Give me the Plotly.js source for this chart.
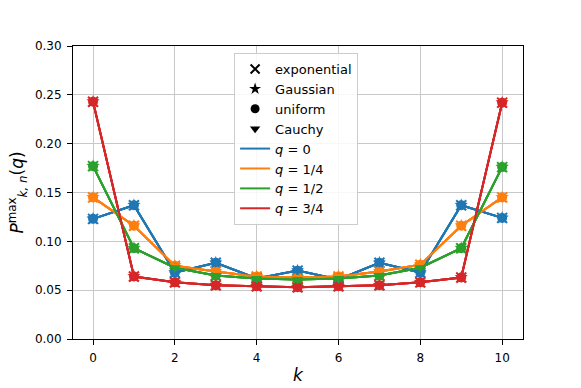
<!DOCTYPE html>
<html>
<head>
<meta charset="utf-8">
<script src="https://cdn.plot.ly/plotly-3.0.1.min.js"></script>
<style>
  html, body { margin: 0; padding: 0; background: #fff; }
  #chart { width: 581px; height: 388px; }
</style>
</head>
<body>
<div id="chart"></div>
<script>
// k values on the x axis
const kValues = [0, 1, 2, 3, 4, 5, 6, 7, 8, 9, 10];

// P^max_{k,n}(q) for each q (all four distributions lie on top of each other)
const q0 = [0.123, 0.137, 0.068, 0.078, 0.062, 0.070, 0.061, 0.078, 0.068, 0.137, 0.124];
const q14 = [0.145, 0.116, 0.075, 0.069, 0.064, 0.063, 0.064, 0.069, 0.076, 0.116, 0.145];
const q12 = [0.177, 0.093, 0.073, 0.065, 0.062, 0.061, 0.062, 0.065, 0.073, 0.093, 0.176];
const q34 = [0.243, 0.064, 0.058, 0.055, 0.054, 0.053, 0.054, 0.055, 0.058, 0.063, 0.242];

const qLabels = ["<i>q</i> = 0", "<i>q</i> = 1/4", "<i>q</i> = 1/2", "<i>q</i> = 3/4"];
const distNames = ["exponential", "Gaussian", "uniform", "Cauchy"];

const qSeries = [q0, q14, q12, q34];
const qColors = ["#1f77b4", "#ff7f0e", "#2ca02c", "#d62728"];
const distSymbols = ["x-thin-open", "star", "circle", "triangle-down"];

const traces = [];

// actual data: one trace per (distribution, q)
distSymbols.forEach((sym, d) => {
  qSeries.forEach((vals, i) => {
    traces.push({
      x: kValues,
      y: vals,
      type: "scatter",
      mode: "lines+markers",
      showlegend: false,
      line: { color: qColors[i], width: 2 },
      marker: {
        symbol: sym,
        size: 10,
        color: qColors[i],
        line: { color: qColors[i], width: sym === "x-thin-open" ? 2 : 0 },
      },
      hoverinfo: "x+y",
    });
  });
});

// legend entries: black marker per distribution, then coloured line per q
distNames.forEach((name, d) => {
  traces.push({
    x: [null], y: [null], type: "scatter", mode: "markers", name,
    marker: {
      symbol: distSymbols[d], size: 9, color: "black",
      line: { color: "black", width: distSymbols[d] === "x-thin-open" ? 2 : 0 },
    },
  });
});
qLabels.forEach((name, i) => {
  traces.push({
    x: [null], y: [null], type: "scatter", mode: "lines", name,
    line: { color: qColors[i], width: 2 },
  });
});

const axisCommon = {
  showline: true,
  mirror: true,
  linecolor: "black",
  linewidth: 1,
  ticks: "outside",
  ticklen: 5,
  tickcolor: "black",
  ticklabelstandoff: 3,
  showgrid: true,
  gridcolor: "#c8c8c8",
  gridwidth: 1,
  zeroline: false,
  tickfont: { family: "DejaVu Sans", size: 12, color: "black" },
};

const layout = {
  width: 581,
  height: 388,
  margin: { l: 73, r: 58, t: 46, b: 49 },
  paper_bgcolor: "white",
  plot_bgcolor: "white",
  font: { family: "DejaVu Sans", color: "black" },
  xaxis: {
    ...axisCommon,
    range: [-0.49, 10.51],
    tickvals: [0, 2, 4, 6, 8, 10],
    title: { text: "<i>k</i>", font: { size: 17 }, standoff: 4 },
  },
  yaxis: {
    ...axisCommon,
    range: [0, 0.3],
    tickvals: [0, 0.05, 0.1, 0.15, 0.2, 0.25, 0.3],
    tickformat: ".2f",
    title: {
      text: "<i>P</i><sup>max</sup><sub><i>k, n</i></sub>(<i>q</i>)",
      font: { size: 17 },
      standoff: 6,
    },
  },
  legend: {
    x: 0.358,
    y: 0.976,
    xanchor: "left",
    yanchor: "top",
    bgcolor: "rgba(255,255,255,0.85)",
    bordercolor: "#cccccc",
    borderwidth: 1,
    font: { family: "DejaVu Sans", size: 13 },
    tracegroupgap: 0,
    itemwidth: 30,
  },
  showlegend: true,
};

Plotly.newPlot("chart", traces, layout, { displayModeBar: false, staticPlot: true });
</script>
</body>
</html>
